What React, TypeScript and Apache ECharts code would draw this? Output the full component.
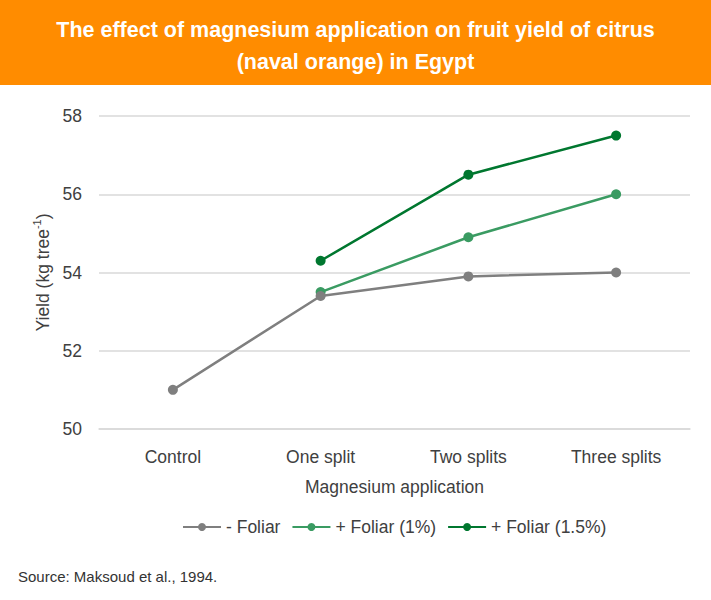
import React, { useEffect, useRef } from "react";
import * as echarts from "echarts";

const categories = ["Control", "One split", "Two splits", "Three splits"];
const noFoliar = [51.0, 53.4, 53.9, 54.0];
const foliar1 = [null, 53.5, 54.9, 56.0];
const foliar15 = [null, 54.3, 56.5, 57.5];
const seriesNames = ["- Foliar", "+ Foliar (1%)", "+ Foliar (1.5%)"];
const colors = ["#7f7f7f", "#3a9b62", "#00772f"];

export default function App() {
  const ref = useRef<HTMLDivElement>(null);
  useEffect(() => {
    if (!ref.current) return;
    const chart = echarts.init(ref.current, null, { renderer: "svg" });
    const font = "Liberation Sans, Arial, sans-serif";
    const fs = 17.5;
    const datas = [noFoliar, foliar1, foliar15];
    chart.setOption({
      animation: false,
      textStyle: { fontFamily: font },
      graphic: [
        { type: "rect", left: 0, top: 0, shape: { width: 711, height: 85 }, style: { fill: "#ff8c00" }, z: 0 },
        {
          type: "text",
          left: 18,
          top: 569,
          style: { text: "Source: Maksoud et al., 1994.", fill: "#333333", font: `15px ${font}` },
        },
      ],
      title: {
        text: "The effect of magnesium application on fruit yield of citrus\n(naval orange) in Egypt",
        left: "center",
        top: 9,
        textStyle: { color: "#ffffff", fontSize: 21.5, fontWeight: "bold", lineHeight: 32, fontFamily: font, align: "center" },
        z: 5,
      },
      legend: {
        data: seriesNames,
        top: 513,
        left: 177,
        itemWidth: 38,
        itemHeight: 10,
        itemGap: 11,
        textStyle: { fontSize: fs, color: "#404040", fontFamily: font },
      },
      grid: { left: 99, right: 21, top: 116, bottom: 171 },
      xAxis: {
        type: "category",
        data: categories,
        boundaryGap: true,
        axisLine: { show: true, lineStyle: { color: "#d9d9d9", width: 1.5 } },
        axisTick: { show: false },
        axisLabel: { fontSize: fs, color: "#404040", margin: 19, fontFamily: font },
        name: "Magnesium application",
        nameLocation: "middle",
        nameGap: 49,
        nameTextStyle: { fontSize: fs, color: "#404040", fontFamily: font },
      },
      yAxis: {
        type: "value",
        min: 50,
        max: 58,
        interval: 2,
        axisLine: { show: false },
        axisTick: { show: false },
        splitLine: { lineStyle: { color: "#d9d9d9", width: 1.5 } },
        axisLabel: { fontSize: fs, color: "#404040", margin: 17, fontFamily: font },
        name: "{a|Yield (kg tree}{s|-1}{a|)}",
        nameLocation: "middle",
        nameGap: 41,
        nameRotate: 90,
        nameTextStyle: {
          rich: {
            a: { fontSize: fs, color: "#404040", fontFamily: font, lineHeight: 20, verticalAlign: "bottom" },
            s: { fontSize: 11, color: "#404040", fontFamily: font, lineHeight: 20, verticalAlign: "top" },
          },
        },
      },
      series: seriesNames.map((n, i) => ({
        name: n,
        type: "line",
        data: datas[i],
        symbol: "circle",
        symbolSize: 10,
        connectNulls: false,
        lineStyle: { color: colors[i], width: 2.5 },
        itemStyle: { color: colors[i] },
        z: 2 + (i === 0 ? 1 : 0),
      })),
    });
    return () => chart.dispose();
  }, []);
  return <div ref={ref} style={{ position: "fixed", left: 0, top: 0, width: 711, height: 600, background: "#fff" }} />;
}
